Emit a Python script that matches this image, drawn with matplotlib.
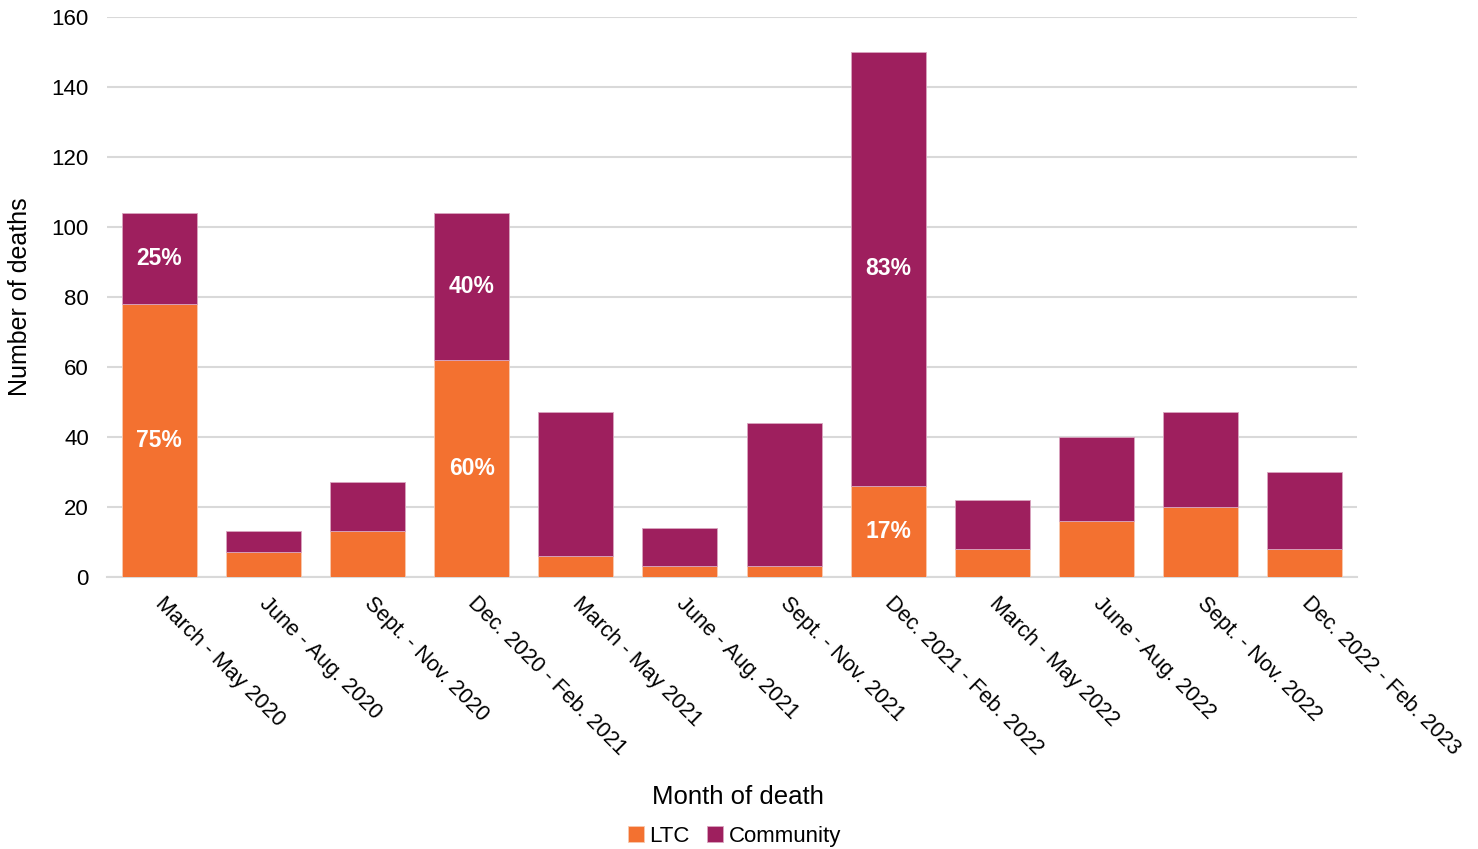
import numpy as np
import matplotlib.pyplot as plt
import matplotlib.transforms as mtransforms

plt.rcParams['font.family'] = ['Liberation Sans', 'DejaVu Sans']

periods = ['March - May 2020', 'June - Aug. 2020', 'Sept. - Nov. 2020',
           'Dec. 2020 - Feb. 2021', 'March - May 2021', 'June - Aug. 2021',
           'Sept. - Nov. 2021', 'Dec. 2021 - Feb. 2022', 'March - May 2022',
           'June - Aug. 2022', 'Sept. - Nov. 2022', 'Dec. 2022 - Feb. 2023']
ltc = [78, 7, 13, 62, 6, 3, 3, 26, 8, 16, 20, 8]
community = [26, 6, 14, 42, 41, 11, 41, 124, 14, 24, 27, 22]

# share labels shown on a few bars (index -> (LTC %, Community %))
pct_labels = {0: ('75%', '25%'), 3: ('60%', '40%'), 7: ('17%', '83%')}

ORANGE = '#F37130'
PURPLE = '#9E1F5E'

fig = plt.figure(figsize=(14.78, 8.49), dpi=100)
ax = fig.add_axes([0.0724, 0.3204, 0.8457, 0.6596])

x = np.arange(len(periods))
ltc = np.array(ltc)
community = np.array(community)
w = 0.72
ax.bar(x, ltc, w, color=ORANGE, edgecolor='#F7C9B0', linewidth=0.6,
       label='LTC', zorder=3)
ax.bar(x, community, w, bottom=ltc, color=PURPLE, edgecolor='#D9A5BF',
       linewidth=0.6, label='Community', zorder=3)

for i, (lo, hi) in pct_labels.items():
    ax.text(i, ltc[i] / 2, lo, ha='center', va='center', color='white',
            fontsize=16.5, fontweight='bold', zorder=4)
    ax.text(i, ltc[i] + community[i] / 2, hi, ha='center', va='center',
            color='white', fontsize=16.5, fontweight='bold', zorder=4)

ax.set_xlim(-0.5, len(periods) - 0.5)
ax.set_ylim(0, 160)
ax.set_yticks(range(0, 161, 20))
ax.yaxis.grid(True, color='#D9D9D9', linewidth=1.5, zorder=0)
ax.set_axisbelow(True)
for s in ['top', 'right', 'left']:
    ax.spines[s].set_visible(False)
ax.spines['bottom'].set_color('#D9D9D9')
ax.spines['bottom'].set_linewidth(1.5)
ax.tick_params(axis='both', length=0, colors='black')
ax.tick_params(axis='y', pad=13, labelsize=16)

# slanted category labels, nudged right of each bar centre
ax.set_xticks(x)
ax.set_xticklabels([])
lab_tr = mtransforms.offset_copy(ax.get_xaxis_transform(), fig=fig,
                                 x=7, y=-16, units='dots')
for xi, name in zip(x, periods):
    ax.text(xi, 0, name, transform=lab_tr, rotation=-45, ha='left',
            va='top', rotation_mode='anchor', fontsize=15.5)

ax.set_ylabel('Number of deaths', fontsize=18, labelpad=14)
fig.text(0.4995, 0.053, 'Month of death', ha='center', fontsize=18.5)

fig.legend(loc='center', bbox_to_anchor=(0.497, 0.015), ncol=2, frameon=False,
           fontsize=16, handlelength=0.7, handleheight=0.7,
           handletextpad=0.25, columnspacing=0.8)

fig.savefig('out.png', dpi=100)
